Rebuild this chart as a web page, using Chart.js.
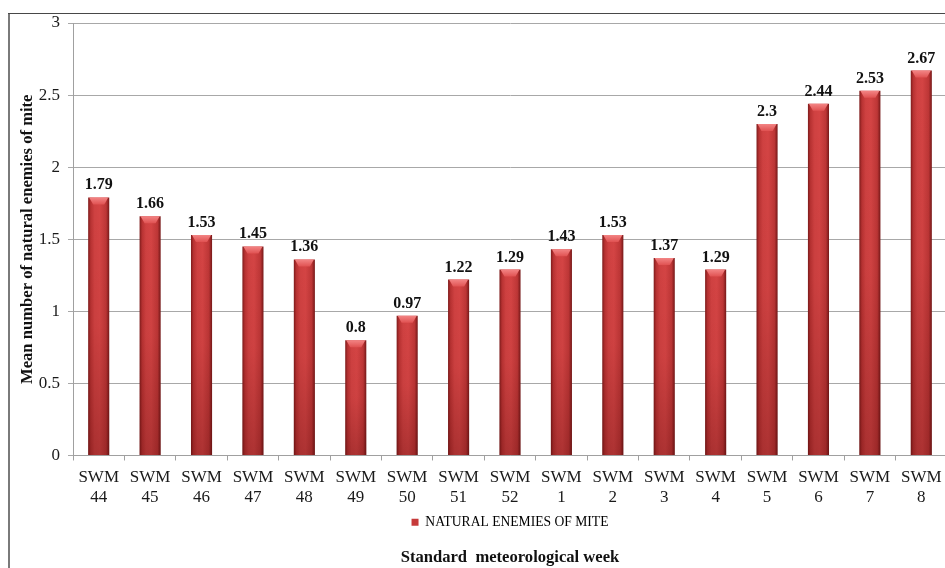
<!DOCTYPE html>
<html>
<head>
<meta charset="utf-8">
<script src="https://cdn.jsdelivr.net/npm/chart.js@4.4.0/dist/chart.umd.min.js"></script>
<style>
  html, body { margin: 0; padding: 0; background: #fff; overflow: hidden; width: 945px; height: 568px; }
  #wrap { width: 950px; height: 568px; }
</style>
</head>
<body>
<div id="wrap"><canvas id="c" width="950" height="568"></canvas></div>
<script>
// Standard meteorological weeks (SWM 44 to SWM 8)
const weeks = ['44', '45', '46', '47', '48', '49', '50', '51', '52', '1', '2', '3', '4', '5', '6', '7', '8'];
const categories = weeks.map(w => ['SWM', w]);

// Mean number of natural enemies of mite per week
const enemyMeans = [1.79, 1.66, 1.53, 1.45, 1.36, 0.8, 0.97, 1.22, 1.29, 1.43, 1.53, 1.37, 1.29, 2.3, 2.44, 2.53, 2.67];

// Value axis ticks
const yTicks = [0, 0.5, 1, 1.5, 2, 2.5, 3];

const seriesName = 'NATURAL ENEMIES OF MITE';
const xTitle = 'Standard  meteorological week';
const yTitle = 'Mean number of natural enemies of mite';

const SERIF = '"Liberation Serif", "Times New Roman", serif';
const BAR_PCT = 0.41;

// Cylinder-like horizontal shading for each bar
function barFill(ctx) {
  const chart = ctx.chart;
  if (ctx.type !== 'data' || !chart.chartArea || !chart.scales.x) return '#c63a3a';
  const xs = chart.scales.x;
  const cx = xs.getPixelForValue(ctx.dataIndex);
  const half = (xs.width / categories.length) * BAR_PCT / 2;
  const g = chart.ctx.createLinearGradient(cx - half, 0, cx + half, 0);
  g.addColorStop(0, '#7e1b1b');
  g.addColorStop(0.12, '#b83232');
  g.addColorStop(0.3, '#cf4141');
  g.addColorStop(0.55, '#d44444');
  g.addColorStop(0.85, '#bd3636');
  g.addColorStop(1, '#761818');
  return g;
}

// Top bevel, lower shading and value labels over each bar
const barDecor = {
  id: 'barDecor',
  afterDatasetsDraw(chart) {
    const ctx = chart.ctx;
    const meta = chart.getDatasetMeta(0);
    ctx.save();
    meta.data.forEach((bar, i) => {
      const { x, y, base, width } = bar.getProps(['x', 'y', 'base', 'width'], true);
      const l = x - width / 2, r = x + width / 2, h = base - y;

      const shade = ctx.createLinearGradient(0, y, 0, base);
      shade.addColorStop(0, 'rgba(60,0,0,0)');
      shade.addColorStop(0.5, 'rgba(60,0,0,0.04)');
      shade.addColorStop(1, 'rgba(60,0,0,0.26)');
      ctx.fillStyle = shade;
      ctx.fillRect(l, y, width, h);

      const capH = Math.min(7, h);
      const inset = 5;
      ctx.beginPath();
      ctx.moveTo(l + 1, y);
      ctx.lineTo(r - 1, y);
      ctx.lineTo(r - inset, y + capH);
      ctx.lineTo(l + inset, y + capH);
      ctx.closePath();
      const cg = ctx.createLinearGradient(0, y, 0, y + capH);
      cg.addColorStop(0, '#f38585');
      cg.addColorStop(1, '#e05252');
      ctx.fillStyle = cg;
      ctx.fill();

      ctx.fillStyle = '#111';
      ctx.font = 'bold 16px ' + SERIF;
      ctx.textAlign = 'center';
      ctx.textBaseline = 'alphabetic';
      ctx.fillText(String(enemyMeans[i]), x, y - 8);
    });
    ctx.restore();
  }
};

// Outer chart frame
const frame = {
  id: 'frame',
  afterDraw(chart) {
    const ctx = chart.ctx;
    ctx.save();
    ctx.strokeStyle = '#7a7a7a';
    ctx.lineWidth = 2;
    ctx.beginPath();
    ctx.moveTo(9, chart.height);
    ctx.lineTo(9, 13);
    ctx.stroke();
    ctx.strokeStyle = '#484848';
    ctx.lineWidth = 1.2;
    ctx.beginPath();
    ctx.moveTo(8, 13.5);
    ctx.lineTo(chart.width, 13.5);
    ctx.stroke();
    ctx.restore();
  }
};

new Chart(document.getElementById('c'), {
  type: 'bar',
  data: {
    labels: categories,
    datasets: [{
      label: seriesName,
      data: enemyMeans,
      backgroundColor: barFill,
      borderWidth: 0,
      barPercentage: BAR_PCT,
      categoryPercentage: 1.0
    }]
  },
  options: {
    responsive: false,
    animation: false,
    devicePixelRatio: 1,
    layout: { padding: { left: 12, right: 3, top: 23, bottom: 0 } },
    scales: {
      x: {
        grid: { drawOnChartArea: false, drawTicks: true, tickLength: 5, color: '#a0a0a0', offset: true },
        border: { color: '#a0a0a0' },
        ticks: {
          font: { family: SERIF, size: 17, lineHeight: 1.12 },
          color: '#1a1a1a',
          padding: 8,
          maxRotation: 0,
          autoSkip: false
        },
        afterFit(s) { s.height = 52; }
      },
      y: {
        min: 0,
        max: 3,
        afterBuildTicks(s) { s.ticks = yTicks.map(v => ({ value: v })); },
        ticks: {
          font: { family: SERIF, size: 17 },
          color: '#1a1a1a',
          padding: 8,
          callback: v => String(v)
        },
        grid: { color: '#a8a8a8', tickLength: 5 },
        border: { color: '#a0a0a0' },
        title: {
          display: true,
          text: yTitle,
          color: '#111',
          font: { family: SERIF, size: 16.6, weight: 'bold' },
          padding: { top: 6, bottom: 0 }
        },
        afterFit(s) { s.width = 61; }
      }
    },
    plugins: {
      legend: {
        position: 'bottom',
        fullSize: false,
        labels: {
          boxWidth: 7,
          boxHeight: 7,
          padding: 8,
          color: '#1a1a1a',
          font: { family: SERIF, size: 13.6 },
          generateLabels: () => [{ text: seriesName, fillStyle: '#c63a3a', strokeStyle: '#c63a3a', lineWidth: 0, datasetIndex: 0 }]
        }
      },
      title: {
        display: true,
        position: 'bottom',
        fullSize: false,
        text: xTitle,
        color: '#111',
        font: { family: SERIF, size: 16.6, weight: 'bold' },
        padding: { top: 9, bottom: 0 }
      },
      tooltip: { enabled: false }
    }
  },
  plugins: [barDecor, frame]
});
</script>
</body>
</html>
